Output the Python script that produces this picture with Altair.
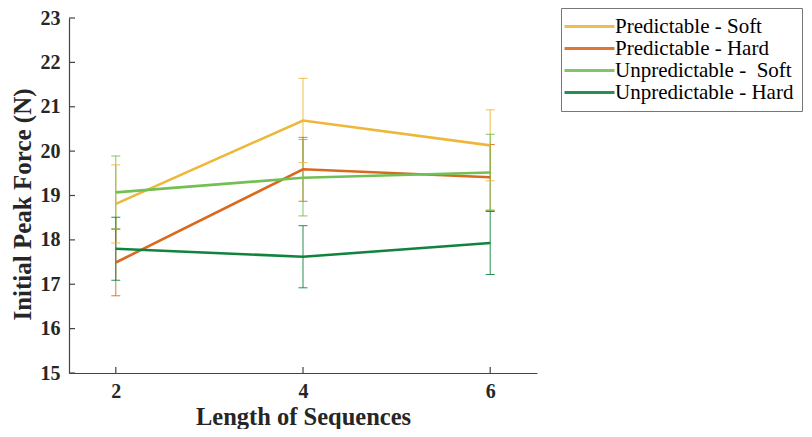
import altair as alt
import pandas as pd

lengths = [2, 4, 6]
series = ["Predictable - Soft", "Predictable - Hard", "Unpredictable -\u00a0 Soft", "Unpredictable - Hard"]
colors = ["#EDB83A", "#D86A1F", "#72C054", "#12833F"]

pred_soft = [18.81, 20.69, 20.13]
pred_soft_err = [0.88, 0.95, 0.80]
pred_hard = [17.49, 19.59, 19.41]
pred_hard_err = [0.75, 0.72, 0.74]
unpred_soft = [19.07, 19.40, 19.52]
unpred_soft_err = [0.82, 0.86, 0.86]
unpred_hard = [17.80, 17.62, 17.93]
unpred_hard_err = [0.71, 0.70, 0.71]

y_ticks = [15, 16, 17, 18, 19, 20, 21, 22, 23]
x_ticks = [2, 4, 6]

rows = []
for name, vals, errs in zip(series,
                            [pred_soft, pred_hard, unpred_soft, unpred_hard],
                            [pred_soft_err, pred_hard_err, unpred_soft_err, unpred_hard_err]):
    for x, v, e in zip(lengths, vals, errs):
        rows.append({"length": x, "force": v, "lo": v - e, "hi": v + e, "cond": name})
df = pd.DataFrame(rows)

W, H = 468, 355
FONT = "Liberation Serif"
XT = "Length of Sequences"
YT = "Initial Peak Force (N)"

xs = alt.Scale(domain=[1.5, 6.5], nice=False, zero=False)
ys = alt.Scale(domain=[15, 23], nice=False, zero=False)
cs = alt.Scale(domain=series, range=colors)

x_axis = alt.Axis(values=x_ticks, tickSize=0, labelPadding=8, titlePadding=4,
                  grid=False, domainColor="#444", domainWidth=1.2,
                  labelFont=FONT, labelFontSize=20, labelFontWeight="bold",
                  labelColor="#262626", titleFont=FONT, titleFontSize=24.5,
                  titleFontWeight="bold", titleColor="#262626", format="d")
y_axis = alt.Axis(values=y_ticks, tickSize=0, labelPadding=9, titlePadding=5,
                  grid=False, domainColor="#444", domainWidth=1.2,
                  labelFont=FONT, labelFontSize=20, labelFontWeight="bold",
                  labelColor="#262626", titleFont=FONT, titleFontSize=25,
                  titleFontWeight="bold", titleColor="#262626", titleY=186,
                  format="d")
legend = alt.Legend(orient="none", legendX=492, legendY=-10, title=None,
                    symbolType="M-3,0H7", symbolSize=100,
                    symbolStrokeWidth=3, labelFont=FONT,
                    labelFontSize=21, labelColor="black",
                    strokeColor="#777", fillColor="white",
                    padding=8, rowPadding=0, labelOffset=25,
                    labelLimit=500)


def X(field):
    return alt.X(field, scale=xs, title=XT, axis=x_axis)


def Y(field):
    return alt.Y(field, scale=ys, title=YT, axis=y_axis)


def C():
    return alt.Color("cond:N", scale=cs, sort=series, legend=legend)


base = alt.Chart(df)

lines = base.mark_line(strokeWidth=2.6).encode(
    x=X("length:Q"), y=Y("force:Q"), color=C())

err_rule = base.mark_rule(strokeWidth=1, opacity=0.9).encode(
    x=X("length:Q"), y=Y("lo:Q"), y2="hi:Q", color=C())
cap_lo = base.mark_tick(orient="horizontal", size=9, thickness=1, opacity=0.9).encode(
    x=X("length:Q"), y=Y("lo:Q"), color=C())
cap_hi = base.mark_tick(orient="horizontal", size=9, thickness=1, opacity=0.9).encode(
    x=X("length:Q"), y=Y("hi:Q"), color=C())

ytick_df = pd.DataFrame({"v": y_ticks})
xtick_df = pd.DataFrame({"v": x_ticks})
ytick_marks = alt.Chart(ytick_df).mark_rule(color="#444", strokeWidth=1.2).encode(
    x=alt.value(0), x2=alt.value(6), y=Y("v:Q"))
xtick_marks = alt.Chart(xtick_df).mark_rule(color="#444", strokeWidth=1.2).encode(
    x=X("v:Q"), y=alt.value(H), y2=alt.value(H - 6))

chart = alt.layer(err_rule, cap_lo, cap_hi, lines, ytick_marks, xtick_marks).properties(
    width=W, height=H,
    autosize=alt.AutoSizeParams(type="none"),
    padding={"left": 61, "top": 10, "right": 267, "bottom": 56},
    background="white",
).configure_view(stroke="transparent", strokeWidth=0)

chart.save("out.html", embed_options={"renderer": "svg", "actions": False})
